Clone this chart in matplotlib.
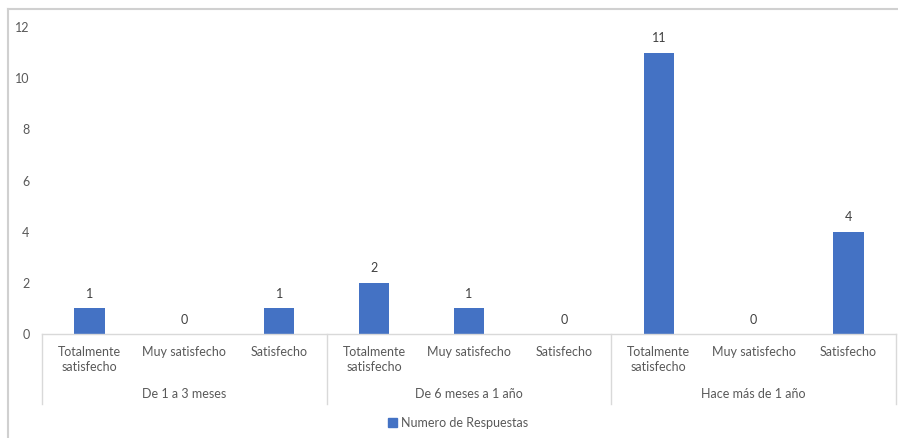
import numpy as np
import matplotlib.pyplot as plt
from matplotlib.lines import Line2D
from matplotlib.transforms import blended_transform_factory

plt.rcParams['font.family'] = ['Lato', 'DejaVu Sans']

groups = ['De 1 a 3 meses', 'De 6 meses a 1 año', 'Hace más de 1 año']
categories = ['Totalmente\nsatisfecho', 'Muy satisfecho', 'Satisfecho']
respuestas = [1, 0, 1, 2, 1, 0, 11, 0, 4]
series_name = 'Numero de Respuestas'

bar_color = '#4472C4'
text_color = '#595959'
line_color = '#D9D9D9'

W, H = 898, 438
fig = plt.figure(figsize=(W / 100, H / 100), dpi=100)
ax = fig.add_axes([42 / W, 1 - 334 / H, (896 - 42) / W, (334 - 27) / H])

x = np.arange(len(respuestas))
bars = ax.bar(x, respuestas, width=0.32, color=bar_color, zorder=2)
for xi, v in zip(x, respuestas):
    ax.annotate(str(v), (xi, v), xytext=(0, 6), textcoords='offset points',
                ha='center', va='bottom', fontsize=9, color='#404040')

ax.set_xlim(-0.5, len(respuestas) - 0.5)
ax.set_ylim(0, 12)
ax.set_yticks(range(0, 13, 2))
ax.tick_params(axis='y', length=0, labelsize=9, labelcolor=text_color, pad=9)
ax.set_xticks([])
for side in ['left', 'right', 'top']:
    ax.spines[side].set_visible(False)
ax.spines['bottom'].set_color(line_color)
ax.spines['bottom'].set_linewidth(1)

# two-level category axis
trans = blended_transform_factory(ax.transData, ax.transAxes)
px = 1 / (334 - 27)
n = len(categories)
for i in range(len(groups) + 1):
    xs = i * n - 0.5
    ax.add_line(Line2D([xs, xs], [0, -70 * px], transform=trans,
                       color=line_color, lw=1, clip_on=False))
for gi, g in enumerate(groups):
    for ci, c in enumerate(categories):
        ax.text(gi * n + ci, -12 * px, c, transform=trans, ha='center', va='top',
                fontsize=9, color=text_color, linespacing=1.3)
    ax.text(gi * n + (n - 1) / 2, -54 * px, g, transform=trans, ha='center',
            va='top', fontsize=9, color=text_color)

# legend
handle = plt.Rectangle((0, 0), 1, 1, color=bar_color)
fig.legend([handle], [series_name], loc='center', bbox_to_anchor=(458 / W, 1 - 423 / H),
           frameon=False, fontsize=9, labelcolor=text_color, handlelength=0.7,
           handleheight=0.7, handletextpad=0.3)

# chart frame
fig.add_artist(Line2D([8 / W, 8 / W], [0, 1 - 9 / H], transform=fig.transFigure,
                      color='#D0D0D0', lw=1.5))
fig.add_artist(Line2D([8 / W, 1], [1 - 9 / H, 1 - 9 / H], transform=fig.transFigure,
                      color='#D0D0D0', lw=1.5))

fig.savefig('out.png', dpi=100)
